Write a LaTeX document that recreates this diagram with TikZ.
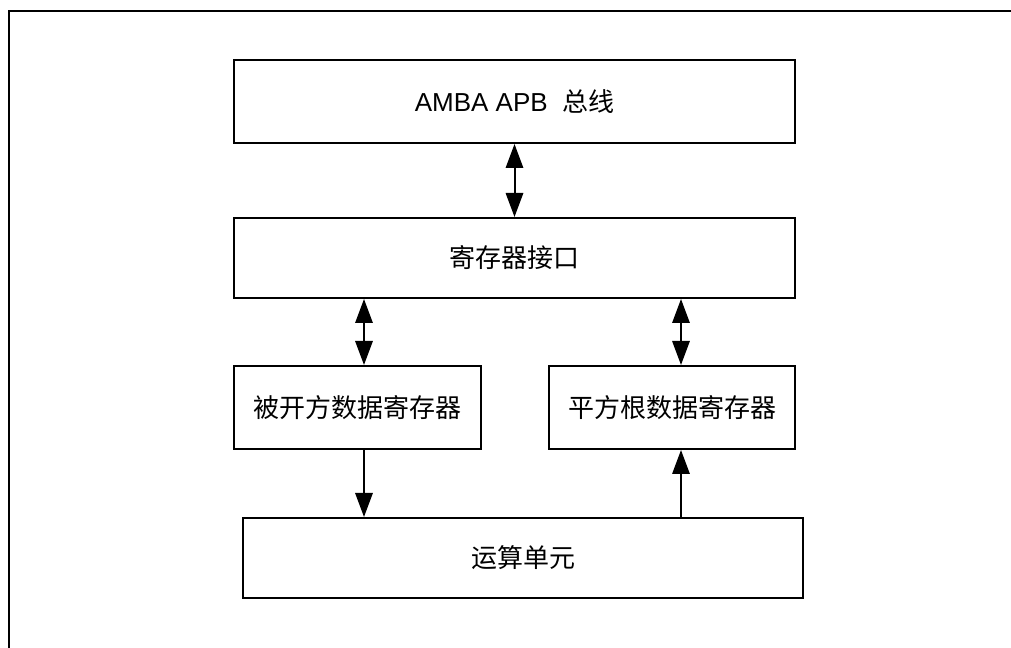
\documentclass[tikz,border=0pt]{standalone}
\usepackage{fontspec}
\setmainfont{Liberation Sans}
\newfontfamily\cjk{Noto Sans CJK SC}
\usetikzlibrary{arrows.meta,positioning}
\newcommand{\pxu}{0.75pt}
\tikzset{
  blk/.style={draw,line width=1.5pt,inner sep=0pt,font=\cjk\fontsize{19.5}{23}\selectfont},
  tip/.tip={Triangle[length=18pt,width=13pt]},
  link/.style={line width=1.5pt,-tip},
  bilink/.style={line width=1.5pt,tip-tip},
}

\begin{document}
\begin{tikzpicture}[x=0.75pt,y=-0.75pt]
  \clip (0,0) rectangle (1011,648);
  \draw[line width=1.5pt] (9,11) rectangle (1040,680);
  % boxes
  \node[blk,minimum width=561*\pxu,minimum height=83*\pxu] (bus) at (514.5,101.5) {{\rmfamily AMBA APB\ \ }总线};
  \node[blk,minimum width=561*\pxu,minimum height=80*\pxu] (reg) at (514.5,258) {寄存器接口};
  \node[blk,minimum width=247*\pxu,minimum height=83*\pxu] (lft) at (357.5,407.5) {被开方数据寄存器};
  \node[blk,minimum width=246*\pxu,minimum height=83*\pxu] (rgt) at (672,407.5) {平方根数据寄存器};
  \node[blk,minimum width=560*\pxu,minimum height=80*\pxu] (alu) at (523,558) {运算单元};
  \coordinate (pl) at (364,0);
  \coordinate (pr) at (681,0);
  % links
  \draw[bilink] (bus.south) -- (reg.north);
  \draw[bilink] (pl |- reg.south) -- (pl |- lft.north);
  \draw[bilink] (pr |- reg.south) -- (pr |- rgt.north);
  \draw[link] (pl |- lft.south) -- (pl |- alu.north);
  \draw[link] (pr |- alu.north) -- (pr |- rgt.south);
\end{tikzpicture}
\end{document}
